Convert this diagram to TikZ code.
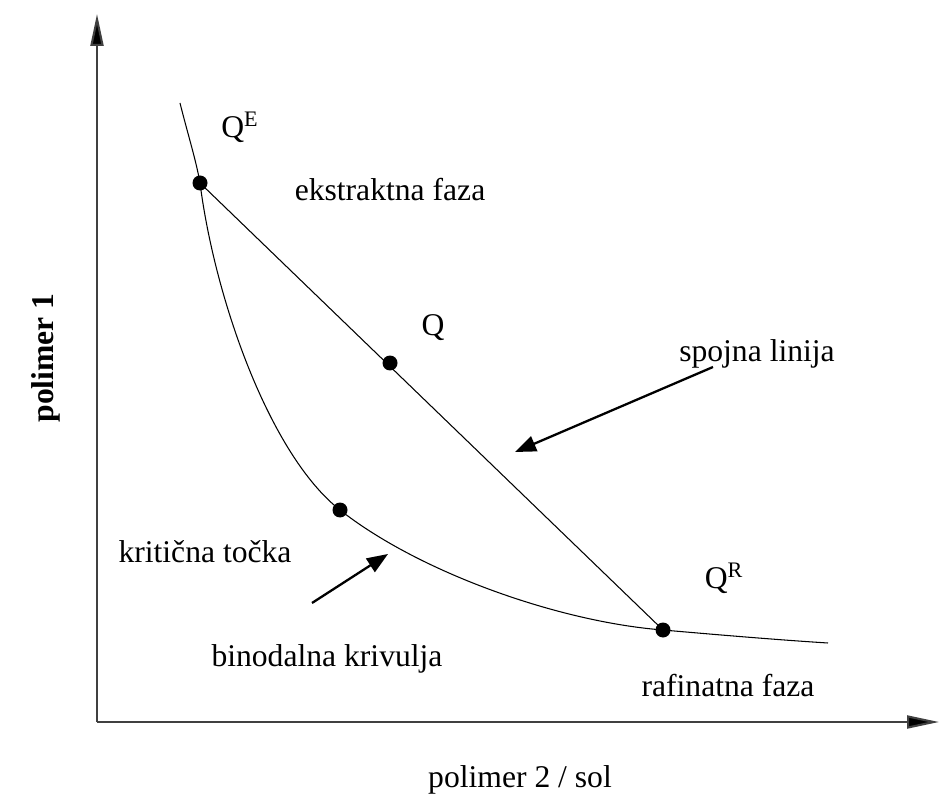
\documentclass[tikz,border=0pt]{standalone}
\usepackage{fontspec}
\setmainfont{Liberation Serif}
\usetikzlibrary{arrows.meta}

\begin{document}
\begin{tikzpicture}[
      x=0.02cm, y=-0.02cm,
      axis/.style={line width=1.2pt, draw=black!75, -{Triangle[length=0.64cm, width=0.26cm, fill=black]}},
      curve/.style={line width=0.6pt},
      dot/.style={circle, fill=black, inner sep=0pt, minimum size=0.3cm},
      pointer/.style={line width=1.3pt, -{Triangle[length=0.42cm, width=0.32cm]}},
      txt/.style={font=\fontsize{18}{20}\selectfont, inner sep=0pt}
    ]
    \useasboundingbox (0,0) rectangle (939,803);

    % axes
    \coordinate (origin) at (97,722);
    \coordinate (ytip) at (97,14);
    \coordinate (xtip) at (939,722);
    \draw[axis] (origin) -- (ytip);
    \draw[axis] (origin) -- (xtip);

    % points on the binodal
    \node[dot] (qe) at (200,183) {};
    \node[dot] (crit) at (340,510) {};
    \node[dot] (qr) at (663,630) {};
    \node[dot] (q) at (390,363) {};
    \coordinate (bintop) at (180,103);
    \coordinate (binend) at (828,643);

    % binodal curve
    \draw[curve] (bintop) .. controls (188,135) and (196,160) .. (qe.center)
      .. controls (215,300) and (270,455) .. (crit.center)
      .. controls (420,573) and (560,622) .. (qr.center)
      .. controls (720,635) and (780,640) .. (binend);

    % tie line
    \draw[curve] (qe.center) -- (qr.center);

    % labels
    \node[txt] (qelab) at (240,127) {Q\textsuperscript{E}};
    \node[txt] (extr) at (390,190) {ekstraktna faza};
    \node[txt] (qlab) at (433,328) {Q};
    \node[txt] (tie) at (757,354) {spojna linija};
    \node[txt] (critlab) at (205,552) {kritična točka};
    \node[txt] (bino) at (327,659) {binodalna krivulja};
    \node[txt] (qrlab) at (724,578) {Q\textsuperscript{R}};
    \node[txt] (raf) at (728,686) {rafinatna faza};
    \node[txt] (xlab) at (520,780) {polimer 2 / sol};
    \node[txt, rotate=90, font=\fontsize{18}{20}\selectfont\bfseries] (ylab) at (46,358) {polimer 1};

    % pointers
    \coordinate (tiestart) at (713,367);
    \coordinate (tieend) at (515,452);
    \coordinate (binostart) at (312,603);
    \coordinate (binoend) at (388,554);
    \draw[pointer] (tiestart) -- (tieend);
    \draw[pointer] (binostart) -- (binoend);
  \end{tikzpicture}
\end{document}
